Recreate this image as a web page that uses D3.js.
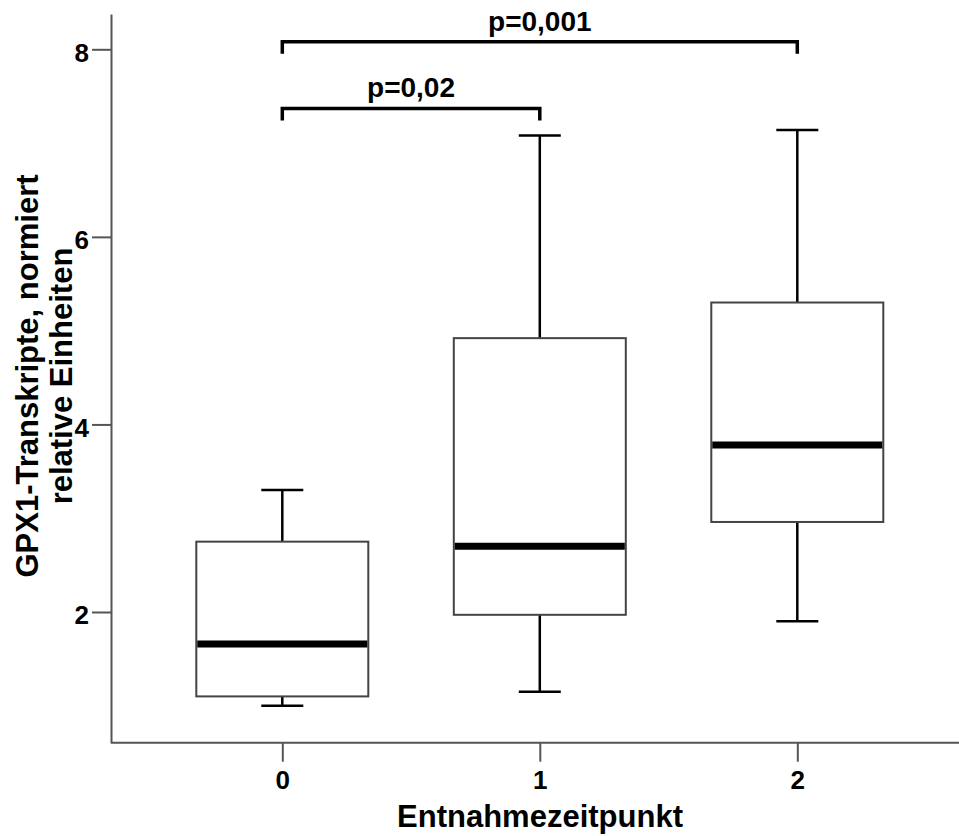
<!DOCTYPE html>
<html lang="de">
    <head>
        <meta charset="utf-8">
        <title>GPX1-Transkripte</title>
        <script src="https://d3js.org/d3.v7.min.js"></script>
        <style type="text/css">
            body { margin: 0; background: #fff; }
            .axis path,
            .axis line {
                stroke: #555;
                stroke-width: 2px;
            }
            .axis text {
                font-family: "Liberation Sans", Arial, sans-serif;
                font-weight: bold;
                font-size: 26px;
                fill: #000;
            }
            .title {
                font-family: "Liberation Sans", Arial, sans-serif;
                font-weight: bold;
                font-size: 31px;
                fill: #000;
            }
            .pval {
                font-family: "Liberation Sans", Arial, sans-serif;
                font-weight: bold;
                font-size: 28px;
                fill: #000;
            }
        </style>
    </head>
    <body>
        <script type="text/javascript">

            const w = 959;
            const h = 836;

            // data
            const groups = ["0", "1", "2"];
            const whiskerLow = [1.00, 1.15, 1.90];
            const q1 = [1.10, 1.97, 2.96];
            const median = [1.66, 2.70, 3.78];
            const q3 = [2.75, 4.92, 5.30];
            const whiskerHigh = [3.30, 7.08, 7.14];

            const yTicks = [2, 4, 6, 8];

            // significance brackets
            const bracketFrom = ["0", "0"];
            const bracketTo = ["1", "2"];
            const bracketLevel = [7.37, 8.08];
            const bracketLabel = ["p=0,02", "p=0,001"];

            const boxes = groups.map((g, i) => ({
                g: g, lo: whiskerLow[i], q1: q1[i], med: median[i], q3: q3[i], hi: whiskerHigh[i]
            }));

            const xScale = d3.scalePoint()
                             .domain(groups)
                             .range([282.3, 797.3]);

            const yScale = d3.scaleLinear()
                             .domain([2 - (742.7 - 612) / 93.78, 8 + (49.3 - 14) / 93.78])
                             .range([742.7, 14]);

            const boxW = 172;
            const capW = 42;

            const svg = d3.select("body")
                    .append("svg")
                    .attr("width", w)
                    .attr("height", h);

            // left axis
            const leftAxis = d3.axisLeft(yScale)
                             .tickValues(yTicks)
                             .tickSize(19)
                             .tickSizeOuter(0)
                             .tickPadding(3);

            svg.append("g")
               .attr("class", "axis")
               .attr("transform", "translate(111,0)")
               .call(leftAxis)
               .selectAll("text")
               .attr("dy", "0.45em");

            // bottom axis
            const bottomAxis = d3.axisBottom(xScale)
                                .tickSize(19)
                                .tickPadding(9);

            const gx = svg.append("g")
                .attr("class", "axis")
                .attr("transform", "translate(0,742.7)")
                .call(bottomAxis);
            gx.select(".domain").remove();
            gx.append("line")
              .attr("x1", 111).attr("x2", w)
              .attr("y1", 0).attr("y2", 0);

            // whiskers
            const bg = svg.append("g");
            bg.selectAll(".whisker")
              .data(boxes)
              .join("line")
              .attr("class", "whisker")
              .attr("x1", d => xScale(d.g))
              .attr("x2", d => xScale(d.g))
              .attr("y1", d => yScale(d.lo))
              .attr("y2", d => yScale(d.hi))
              .attr("stroke", "#000")
              .attr("stroke-width", 2.5);

            ["lo", "hi"].forEach(k => {
                bg.selectAll(".cap-" + k)
                  .data(boxes)
                  .join("line")
                  .attr("class", "cap-" + k)
                  .attr("x1", d => xScale(d.g) - capW / 2)
                  .attr("x2", d => xScale(d.g) + capW / 2)
                  .attr("y1", d => yScale(d[k]))
                  .attr("y2", d => yScale(d[k]))
                  .attr("stroke", "#000")
                  .attr("stroke-width", 2.5);
            });

            // boxes
            bg.selectAll(".box")
              .data(boxes)
              .join("rect")
              .attr("class", "box")
              .attr("x", d => xScale(d.g) - boxW / 2)
              .attr("width", boxW)
              .attr("y", d => yScale(d.q3))
              .attr("height", d => yScale(d.q1) - yScale(d.q3))
              .attr("fill", "#fff")
              .attr("stroke", "#444")
              .attr("stroke-width", 2);

            // medians
            bg.selectAll(".median")
              .data(boxes)
              .join("line")
              .attr("class", "median")
              .attr("x1", d => xScale(d.g) - boxW / 2 + 1)
              .attr("x2", d => xScale(d.g) + boxW / 2 - 1)
              .attr("y1", d => yScale(d.med))
              .attr("y2", d => yScale(d.med))
              .attr("stroke", "#000")
              .attr("stroke-width", 7);

            // brackets
            const brackets = bracketLabel.map((t, i) => ({
                a: bracketFrom[i], b: bracketTo[i], v: bracketLevel[i], t: t
            }));
            const drop = 12;

            svg.selectAll(".bracket")
               .data(brackets)
               .join("path")
               .attr("class", "bracket")
               .attr("d", d => {
                   const y = yScale(d.v);
                   return "M" + xScale(d.a) + "," + (y + drop) +
                          "V" + y + "H" + xScale(d.b) + "V" + (y + drop);
               })
               .attr("fill", "none")
               .attr("stroke", "#000")
               .attr("stroke-width", 3.5);

            svg.selectAll(".pval")
               .data(brackets)
               .join("text")
               .attr("class", "pval")
               .attr("x", d => (xScale(d.a) + xScale(d.b)) / 2)
               .attr("y", d => yScale(d.v) - 11)
               .attr("text-anchor", "middle")
               .text(d => d.t);

            // axis titles
            svg.append("text")
               .attr("class", "title")
               .attr("x", 540)
               .attr("y", 827)
               .attr("text-anchor", "middle")
               .text("Entnahmezeitpunkt");

            const yt = svg.append("text")
               .attr("class", "title")
               .attr("transform", "translate(38,376) rotate(-90)")
               .attr("text-anchor", "middle");
            yt.append("tspan").attr("x", 0).attr("y", 0).text("GPX1-Transkripte, normiert");
            yt.append("tspan").attr("x", 0).attr("y", 34).text("relative Einheiten");

        </script>
    </body>
</html>
